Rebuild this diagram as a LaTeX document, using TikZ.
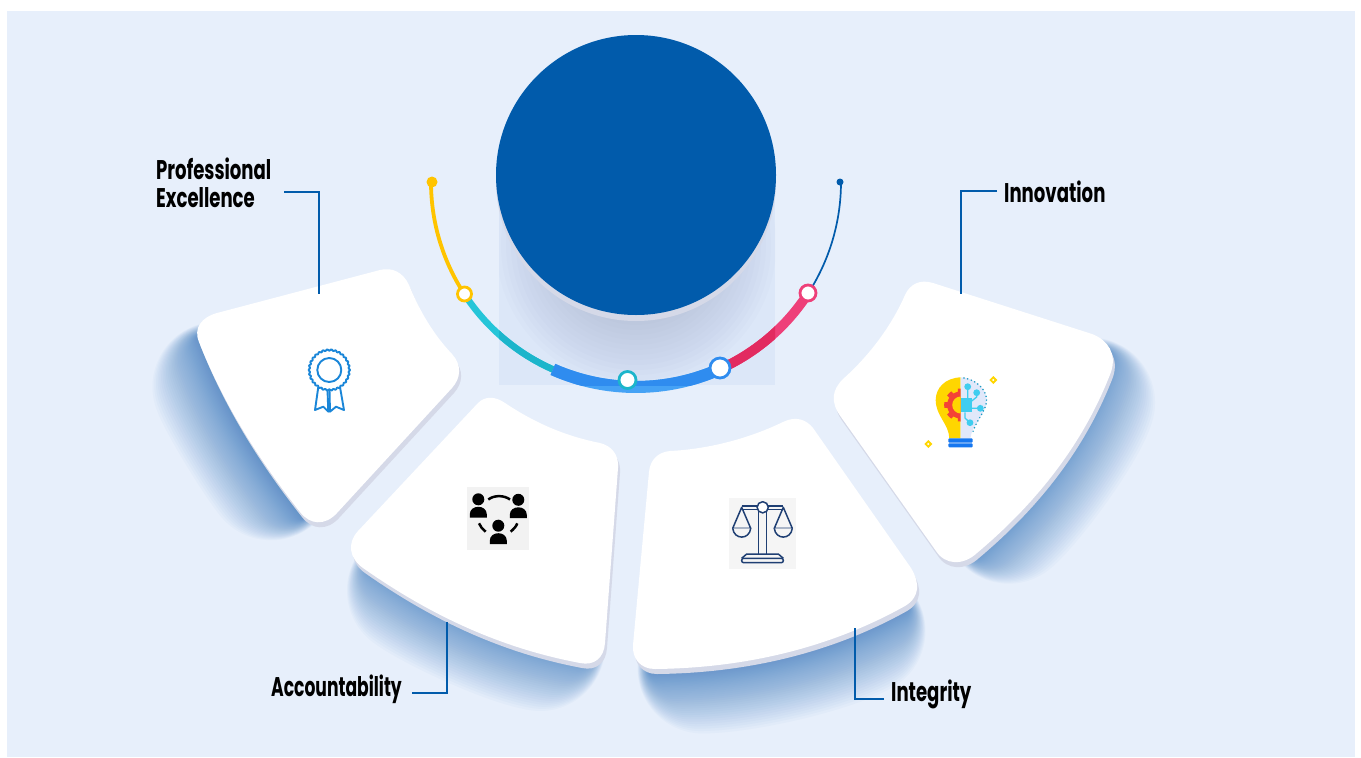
\documentclass[tikz,border=0pt]{standalone}
\usepackage{fontspec}
\newfontfamily\labelfont[FakeStretch=0.67]{Poppins}
\newfontfamily\tightfont[FakeStretch=0.635]{Poppins}
\usetikzlibrary{positioning}
\definecolor{pagebg}{HTML}{E7EFFB}
\definecolor{rectbg}{HTML}{DCE7F8}
\definecolor{depth}{HTML}{D5D9E8}
\definecolor{navy}{HTML}{015BAB}
\definecolor{sunny}{HTML}{FFC400}
\definecolor{teal1}{HTML}{25C5D8}
\definecolor{teal2}{HTML}{1CB5CB}
\definecolor{blue1}{HTML}{45A2F5}
\definecolor{blue2}{HTML}{2F8CEF}
\definecolor{pink1}{HTML}{EE4079}
\definecolor{pink2}{HTML}{E22B60}
\definecolor{ink}{HTML}{1F3F73}
\definecolor{ribbon}{HTML}{1A86D8}
\definecolor{haze}{HTML}{3A7BC0}
\definecolor{dusk}{HTML}{505A8C}
\definecolor{bulbyel}{HTML}{FFD600}
\definecolor{bulbpale}{HTML}{E1E8FA}
\definecolor{gearred}{HTML}{F44336}
\definecolor{chipcy}{HTML}{3FCDEF}
\definecolor{dotcy}{HTML}{1A9BC4}
\definecolor{basebl}{HTML}{1677F0}
\tikzset{
  softshadow/.style={draw=haze,opacity=.03,line cap=round},
  leader/.style={draw=navy,line width=1.8pt},
  lab/.style={inner sep=0pt,font=\labelfont\bfseries\fontsize{27}{28}\selectfont,text=black,align=left},
  ring/.style={circle,fill=white,line width=2.8pt,inner sep=0pt},
}
\newcommand{\softlayers}[1]{\foreach \k in {1,...,40}{
  \pgfmathsetmacro\w{130*(\k/40)^1.5}
  \draw[softshadow,line width=\w pt,shorten <=.42*\w pt,shorten >=.42*\w pt] #1;}}
\def\cardprof{(217,313) -- (380,270) .. controls (392,267) and (403,272) .. (409,285)
  .. controls (420,312) and (434,335) .. (452,354) .. controls (462,365) and (461,378) .. (452,388)
  -- (337,513) .. controls (325,526) and (310,525) .. (300,512)
  .. controls (255,455) and (222,400) .. (199,342) .. controls (193,328) and (202,317) .. (217,313) -- cycle}
\def\cardacc{(478,403) .. controls (485,396) and (495,396) .. (505,403)
  .. controls (535,423) and (565,436) .. (600,443) .. controls (612,446) and (619,455) .. (618,468)
  -- (605,643) .. controls (604,658) and (594,666) .. (580,663)
  .. controls (500,648) and (430,615) .. (363,568) .. controls (349,558) and (347,543) .. (358,531) -- cycle}
\def\cardint{(670,451) .. controls (710,449) and (750,438) .. (783,422)
  .. controls (795,416) and (806,419) .. (813,428) -- (911,568)
  .. controls (920,583) and (920,597) .. (905,606) .. controls (830,648) and (745,668) .. (655,669)
  .. controls (640,669) and (632,658) .. (633,645) -- (649,472) .. controls (650,460) and (658,452) .. (670,451) -- cycle}
\def\cardinn{(933,283) -- (1092,334) .. controls (1108,340) and (1117,354) .. (1111,372)
  .. controls (1085,440) and (1040,500) .. (977,553) .. controls (963,566) and (945,565) .. (936,551)
  -- (841,417) .. controls (830,402) and (832,390) .. (843,379)
  .. controls (870,355) and (892,325) .. (905,295) .. controls (910,284) and (920,279) .. (933,283) -- cycle}
\begin{document}
\begin{tikzpicture}[x=1pt,y=-1pt]
\useasboundingbox (0,0) rectangle (1361,758);
\fill[pagebg] (7,11) rectangle (1355,757);

% blue shadows under the cards
\softlayers{(200,335) .. controls (222,400) and (255,455) .. (305,518)}
\softlayers{(368,558) .. controls (432,605) and (505,640) .. (594,655)}
\softlayers{(648,669) .. controls (745,668) and (830,648) .. (908,604)}
\softlayers{(1105,350) .. controls (1083,427) and (1033,497) .. (968,555)}

% cards
\foreach \c in {\cardprof,\cardacc,\cardint,\cardinn}{
  \fill[depth,shift={(2,5)}] \c;
  \fill[white] \c;
}

% panel behind the circle
\fill[rectbg] (499,175) rectangle (775,385);
\begin{scope}
  \clip (499,175) rectangle (775,385);
  \foreach \r in {75,80,...,140}{
    \fill[dusk,opacity=.017] (636,245) circle[radius=\r pt];
  }
\end{scope}
\fill[depth] (636,181) circle[radius=140pt];
\node[circle,fill=navy,minimum size=280pt,inner sep=0pt] (hub) at (636,175) {};

% the arc
\coordinate (arcc) at (636,182);
\draw[sunny,line width=3.8pt] (arcc) ++(180:205pt) arc[start angle=180,end angle=213.1,radius=205pt];
\draw[teal1,line width=6.5pt] (arcc) ++(213.1:205pt) arc[start angle=213.1,end angle=246.1,radius=205pt];
\draw[pink1,line width=9.5pt] (arcc) ++(294.3:205pt) arc[start angle=294.3,end angle=327.2,radius=205pt];
\draw[blue1,line width=12pt] (arcc) ++(246.1:205pt) arc[start angle=246.1,end angle=294.3,radius=205pt];
\draw[navy,line width=1.7pt] (arcc) ++(327.2:205pt) arc[start angle=327.2,end angle=360,radius=205pt];
\begin{scope}
  \clip (499,175) rectangle (775,385);
  \draw[teal2,line width=6.5pt] (arcc) ++(213.1:205pt) arc[start angle=213.1,end angle=246.1,radius=205pt];
  \draw[pink2,line width=9.5pt] (arcc) ++(294.3:205pt) arc[start angle=294.3,end angle=327.2,radius=205pt];
  \draw[blue2,line width=12pt] (arcc) ++(246.1:205pt) arc[start angle=246.1,end angle=294.3,radius=205pt];
\end{scope}
\node[circle,fill=sunny,minimum size=11pt,inner sep=0pt] (dotl) at (432,182) {};
\node[circle,fill=navy,minimum size=7pt,inner sep=0pt] (dotr) at (840,182) {};
\node[ring,draw=sunny,minimum size=14pt] (nodeyel) at (464.5,294) {};
\node[ring,draw=teal2,minimum size=17pt] (nodetea) at (627.5,380) {};
\node[ring,draw=blue2,minimum size=20pt] (nodeblu) at (720,368) {};
\node[ring,draw=pink1,minimum size=16pt] (nodepin) at (808,293) {};

% rosette icon
\begin{scope}[ribbon,line width=1.9pt,line join=round]
  \draw (318.3,387) -- (315,410) -- (323.3,406.7) -- (328.3,411.7) -- (327.5,390);
  \draw (340,387) -- (344,410) -- (336,406.7) -- (330,411.7) -- (329.5,390);
  \draw[fill=white] plot[domain=0:360,samples=145] ({329.3+(20+.7*cos(30*\x))*cos(\x)},{370+(20+.7*cos(30*\x))*sin(\x)}) -- cycle;
  \draw (329.3,370) circle[radius=12pt];
\end{scope}

% people icon
\fill[black!5] (467,487) rectangle (529,550);
\foreach \px/\py in {478.3/499.3,518.3/499.8,498.3/525.7}{
  \fill (\px,\py) circle[radius=6pt];
  \fill (\px-8.5,\py+18.4) -- (\px-8.5,\py+15) .. controls (\px-8.5,\py+5) and (\px+8.5,\py+5) .. (\px+8.5,\py+15) -- (\px+8.5,\py+18.4) -- cycle;
}
\draw[line width=2.5pt] (488.3,499.5) .. controls (494,495) and (504,495) .. (510,499.5);
\draw[line width=2.5pt] (479,523.3) .. controls (480,527) and (483,529) .. (485.7,531.7);
\draw[line width=2.5pt] (517.3,523.3) .. controls (516,527) and (513.5,529) .. (510.7,531.7);

% scales icon
\fill[black!4] (729,498) rectangle (796,569);
\begin{scope}[ink,line width=1.5pt,line join=round]
  \draw (741.7,506) -- (783.3,506) (741.7,509.3) -- (783.3,509.3);
  \draw (758.3,511) -- (758.3,554) (766.7,511) -- (766.7,554);
  \draw (741.7,507.3) -- (732.7,528.3) -- (750.7,528.3) -- cycle;
  \draw (783.3,507.3) -- (774.3,528.3) -- (792.3,528.3) -- cycle;
  \draw[fill=black!4] (732.7,528.3) .. controls (734,540) and (749.5,540) .. (750.7,528.3);
  \draw[fill=black!4] (774.3,528.3) .. controls (775.5,540) and (791,540) .. (792.3,528.3);
  \draw (741.7,558.3) -- (746.7,554) -- (778.3,554) -- (783.3,558.3);
  \draw[rounded corners=2pt] (741.7,558.3) rectangle (783.3,562.7);
  \draw[fill=white] (762.7,507.3) circle[radius=5.6pt];
\end{scope}

% bulb icon
\fill[bulbyel] (960.7,377.3) .. controls (945,378) and (935.7,388) .. (935.7,400)
  .. controls (935.7,416) and (949,424) .. (949.3,438.3) -- (960.7,438.3) -- cycle;
\fill[bulbpale] (960.7,377.3) .. controls (976,378) and (986.7,390) .. (986.7,400)
  .. controls (986.7,414) and (971,426) .. (970.5,438.3) -- (960.7,438.3) -- cycle;
\begin{scope}
  \clip (930,385) rectangle (960.7,425);
  \fill[gearred] plot[domain=0:360,samples=145] ({960.7+(13.5+3*(cos(8*\x)>0))*cos(\x)},{405+(13.5+3*(cos(8*\x)>0))*sin(\x)}) -- cycle;
  \fill[bulbyel] (960.7,405) circle[radius=8.5pt];
\end{scope}
\begin{scope}[chipcy,line width=1.3pt]
  \fill (960.7,398.3) rectangle (971.7,412.3);
  \draw (967.7,386.7) -- (967.7,398.3) (976.7,392.7) -- (976.7,397) -- (971.7,401);
  \draw (971.7,408.3) -- (980.3,408.3) (965,412.3) -- (965,418) -- (970,422.7);
  \foreach \qx/\qy in {967.7/386.7,976.7/392.7,980.3/408.3,970/422.7}{
    \fill (\qx,\qy) circle[radius=3.4pt];
  }
\end{scope}
\draw[dotcy,line width=1.7pt,line cap=round,dash pattern=on 0pt off 3.8pt]
  (964,378) .. controls (978,380) and (988,392) .. (986.5,402) .. controls (985,412) and (976,421) .. (972.5,433);
\fill[basebl,rounded corners=1pt] (948.3,438.3) rectangle (972.7,442.7);
\fill[basebl,rounded corners=1pt] (948.3,443.3) rectangle (972.7,447.3);
\foreach \sx/\sy in {993.3/380,928.3/444}{
  \fill[bulbyel] (\sx,\sy-4) -- (\sx+4,\sy) -- (\sx,\sy+4) -- (\sx-4,\sy) -- cycle;
  \fill[white] (\sx,\sy) circle[radius=1.1pt];
}

% labels and leaders
\node[lab,anchor=west] (prof) at (156,183) {Professional\\[-.5pt]Excellence};
\node[lab,anchor=base east] (acc) at (402,696) {\tightfont Accountability};
\node[lab,anchor=base west] (integ) at (891,701) {Integrity};
\node[lab,anchor=base west] (innov) at (1004,202) {Innovation};
\coordinate (proftip) at (319,294);
\coordinate (acctip) at (447,622);
\coordinate (integtip) at (855,628);
\coordinate (innovtip) at (961,294);
\draw[leader] ([shift={(13pt,-9pt)}]prof.east) -| (proftip);
\draw[leader] ([shift={(10pt,-4pt)}]acc.east) -| (acctip);
\draw[leader] ([shift={(-7pt,-5pt)}]integ.west) -| (integtip);
\draw[leader] ([shift={(-7pt,0pt)}]innov.west) -| (innovtip);
\end{tikzpicture}
\end{document}
